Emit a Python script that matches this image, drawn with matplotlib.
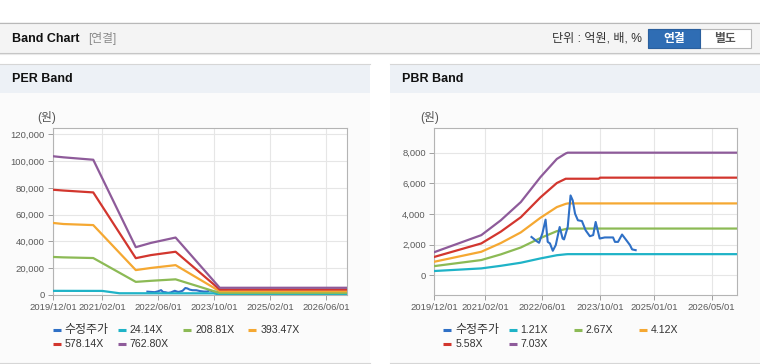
import numpy as np
import pandas as pd
import matplotlib
matplotlib.use('Agg')
import matplotlib.pyplot as plt
from matplotlib.patches import Rectangle
from matplotlib.lines import Line2D

plt.rcParams['font.family'] = ['Liberation Sans', 'Noto Sans CJK KR']

W, H = 760, 364

# ---- PER 밴드 데이터 ----
per_dates = ['2019-12-01', '2020-03-01', '2020-11-15', '2021-11-20', '2022-04-01',
             '2022-11-01', '2023-11-20', '2026-12-01']
per_20881 = [28400, 28100, 27600, 9800, 10600, 11700, 1500, 1500]
per_39347 = [53800, 53000, 52200, 18600, 20200, 22300, 2800, 2800]
per_57814 = [78600, 78000, 76600, 27500, 29800, 32300, 4100, 4100]
per_76280 = [103600, 102800, 101000, 35700, 38900, 42900, 5400, 5400]
# 24.14X 는 꺾이는 시점이 달라서 날짜 따로
per_2414_dates = ['2019-12-01', '2021-02-01', '2021-07-01', '2023-10-01', '2023-11-20', '2026-12-01']
per_2414 = [3100, 3050, 1300, 1250, 250, 250]

# ---- PBR 밴드 데이터 ----
pbr_dates = ['2019-12-01', '2021-01-01', '2021-06-15', '2021-12-01', '2022-05-15',
             '2022-10-01', '2022-12-15', '2023-01-01', '2023-09-20', '2023-10-01',
             '2026-12-01']
pbr_121 = [280, 450, 620, 820, 1100, 1310, 1370, 1380, 1380, 1380, 1380]
pbr_267 = [600, 995, 1365, 1815, 2430, 2880, 3020, 3050, 3050, 3050, 3050]
pbr_412 = [885, 1535, 2105, 2800, 3750, 4450, 4660, 4690, 4690, 4690, 4690]
pbr_558 = [1200, 2080, 2850, 3790, 5080, 6020, 6300, 6300, 6300, 6370, 6370]
pbr_703 = [1510, 2620, 3590, 4780, 6400, 7590, 7950, 8000, 8000, 8000, 8000]

# ---- 수정주가 ----
price_dates = ['2022-03-01', '2022-04-13', '2022-05-04', '2022-06-01', '2022-06-28',
               '2022-07-16', '2022-08-04', '2022-08-28', '2022-09-22', '2022-10-25',
               '2022-11-19', '2022-12-01', '2023-01-01', '2023-01-25', '2023-02-12',
               '2023-03-04', '2023-03-28', '2023-05-01', '2023-06-01', '2023-07-07',
               '2023-08-04', '2023-08-25', '2023-09-28', '2023-11-10', '2024-01-19',
               '2024-02-04', '2024-03-01', '2024-04-04', '2024-05-16', '2024-06-10',
               '2024-06-28', '2024-07-28']
price = [2500, 2230, 2120, 2730, 3630, 2180, 2080, 1600, 1970, 3150,
         2400, 2340, 3150, 5210, 4890, 4020, 3590, 3540, 2940, 2550,
         2620, 3480, 2400, 2470, 2470, 2180, 2180, 2660, 2230, 1970,
         1690, 1640]

per_labels = ['수정주가', '24.14X', '208.81X', '393.47X', '578.14X', '762.80X']
pbr_labels = ['수정주가', '1.21X', '2.67X', '4.12X', '5.58X', '7.03X']
per_ticks = ['2019-12-01', '2021-02-01', '2022-06-01', '2023-10-01', '2025-02-01', '2026-06-01']
pbr_ticks = ['2019-12-01', '2021-02-01', '2022-06-01', '2023-10-01', '2025-01-01', '2026-05-01']
per_yticks = [0, 20000, 40000, 60000, 80000, 100000, 120000]
pbr_yticks = [0, 2000, 4000, 6000, 8000]

colors = ['#2f70c6', '#1fb3c7', '#8cba55', '#f5a832', '#d2362e', '#8e5b9a']


def rect(fig, x, y, w, h, z=-10, **kw):
    fig.add_artist(Rectangle((x / W, 1 - (y + h) / H), w / W, h / H,
                             transform=fig.transFigure, zorder=z, **kw))


def hline(fig, x0, x1, y, **kw):
    fig.add_artist(Line2D([x0 / W, x1 / W], [1 - y / H, 1 - y / H],
                          transform=fig.transFigure, zorder=-5, **kw))


def text(fig, x, y, s, **kw):
    fig.text(x / W, 1 - y / H, s, **kw)


def draw_band(fig, box, bands, ylim, yticks, xticks, price_on_top):
    # bands: (날짜, 값) 쌍 리스트
    x0, y0, x1, y1 = box
    ax = fig.add_axes([x0 / W, 1 - y1 / H, (x1 - x0) / W, (y1 - y0) / H])
    ax.set_zorder(2)
    ax.set_facecolor('white')
    pz = 5 if price_on_top else 2
    ax.plot(pd.to_datetime(price_dates), price, color=colors[0], lw=1.5, zorder=pz)
    for i, (dates, vals) in enumerate(bands):
        ax.plot(pd.to_datetime(dates), vals, color=colors[i + 1], lw=1.6, zorder=3)
    ax.set_xlim(pd.Timestamp('2019-12-01'), pd.Timestamp('2026-12-01'))
    ax.set_ylim(*ylim)
    ax.set_yticks(yticks)
    ax.set_yticklabels([f'{v:,}' for v in yticks])
    ax.set_xticks(pd.to_datetime(xticks))
    ax.set_xticklabels([t.replace('-', '/') for t in xticks])
    ax.grid(True, color='#e6e6e6', lw=0.8, zorder=0)
    ax.set_axisbelow(True)
    for s in ax.spines.values():
        s.set_color('#b4b4b4')
        s.set_linewidth(0.8)
    ax.tick_params(length=3.6, width=0.7, color='#a0a0a0', labelsize=6.8,
                   labelcolor='#5a5a5a', pad=2.5)
    return ax


def draw_legend(fig, x_base, labels):
    for i, lab in enumerate(labels):
        row, col = divmod(i, 4)
        x = x_base + col * 65.2
        y = 330 + row * 14.3
        fig.add_artist(Line2D([x / W, (x + 8) / W], [1 - y / H, 1 - y / H],
                              transform=fig.transFigure, color=colors[i], lw=2.2,
                              solid_capstyle='butt'))
        fs = 8.6 if i == 0 else 7.6
        text(fig, x + 12, y, lab, fontsize=fs, color='#333333', va='center')


fig = plt.figure(figsize=(W / 100, H / 100), dpi=100)
fig.patch.set_facecolor('white')

# 헤더
rect(fig, 0, 22, 760, 31, fc='#f4f4f4', ec='none')
hline(fig, 0, 760, 22.5, color='#b8b8b8', lw=0.8)
hline(fig, 0, 760, 53, color='#c4c4c4', lw=0.8)
hline(fig, 0, 760, 54.2, color='#e9e9e9', lw=0.8)
text(fig, 12, 38.5, 'Band Chart', fontsize=9, fontweight='bold', color='#111111', va='center')
text(fig, 88, 38.5, '[연결]', fontsize=8.5, color='#8a8a8a', va='center')
text(fig, 552, 38.5, '단위 : 억원, 배, %', fontsize=8.7, color='#333333', va='center')
rect(fig, 648, 29, 102.5, 18.5, z=1, fc='white', ec='#b8b8b8', lw=0.8)
rect(fig, 648, 29, 51.5, 18.5, z=1, fc='#2f6db4', ec='#2a5f9e', lw=0.8)
text(fig, 674, 39, '연결', fontsize=8.5, fontweight='bold', color='white', ha='center', va='center')
text(fig, 725, 39, '별도', fontsize=8.5, fontweight='bold', color='#555555', ha='center', va='center')

# 패널
for px0, title in [(0, 'PER Band'), (390, 'PBR Band')]:
    rect(fig, px0, 64, 370, 299, fc='#fbfbfb', ec='none')
    rect(fig, px0, 64, 370, 29, fc='#edf1f6', ec='none')
    hline(fig, px0, px0 + 370, 64.3, color='#d6d6d6', lw=0.8)
    hline(fig, px0, px0 + 370, 363, color='#d6d6d6', lw=0.8)
    text(fig, px0 + 12, 79.5, title, fontsize=9, fontweight='bold', color='#111111', va='center')

text(fig, 47, 118, '(원)', fontsize=8.5, color='#555555', ha='center', va='center')
text(fig, 430, 118, '(원)', fontsize=8.5, color='#555555', ha='center', va='center')

draw_band(fig, (53, 128, 347, 295),
          [(per_2414_dates, per_2414), (per_dates, per_20881), (per_dates, per_39347),
           (per_dates, per_57814), (per_dates, per_76280)],
          (0, 124700), per_yticks, per_ticks, price_on_top=False)
draw_band(fig, (434.3, 128, 737, 295),
          [(pbr_dates, pbr_121), (pbr_dates, pbr_267), (pbr_dates, pbr_412),
           (pbr_dates, pbr_558), (pbr_dates, pbr_703)],
          (-1285, 9610), pbr_yticks, pbr_ticks, price_on_top=True)

draw_legend(fig, 52.7, per_labels)
draw_legend(fig, 443.3, pbr_labels)

fig.savefig('out.png', dpi=100)
